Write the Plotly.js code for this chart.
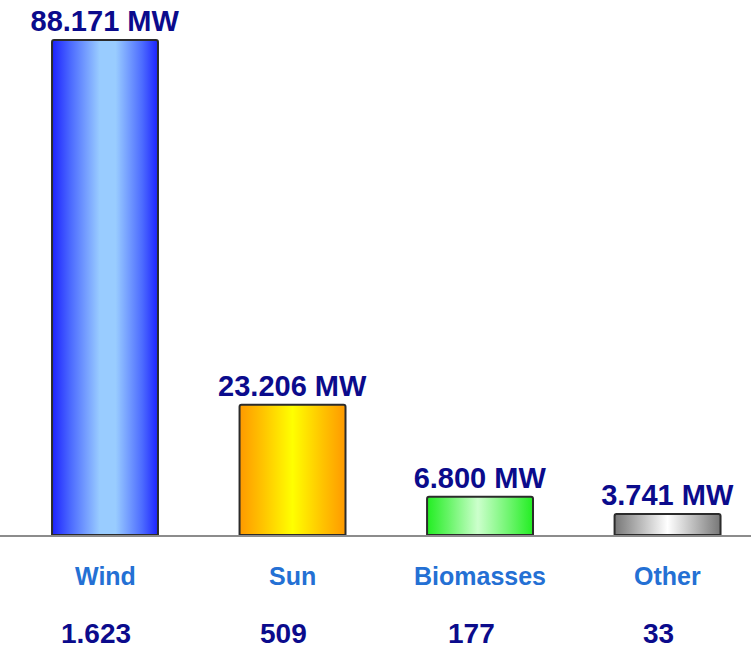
<!DOCTYPE html>
<html>
<head>
<meta charset="utf-8">
<script src="https://cdn.plot.ly/plotly-3.0.1.min.js"></script>
<style>
  html, body { margin: 0; padding: 0; background: #ffffff; }
  #chart { width: 751px; height: 652px; }
</style>
</head>
<body>
<div id="chart"></div>
<script>
// Installed renewable capacity by source (MW) and number of plants
const sources = ['Wind', 'Sun', 'Biomasses', 'Other'];
const capacityMW = [88171, 23206, 6800, 3741];
const plantCounts = [1623, 509, 177, 33];

// Horizontal colour ramps for each bar: edge -> highlight -> edge
const barRamps = [
  [[0, '#1c22ff'], [0.18, '#4d6cff'], [0.45, '#99ccff'], [0.6, '#99ccff'], [0.85, '#4d6cff'], [1, '#1c22ff']],
  [[0, '#ff9900'], [0.22, '#ffc400'], [0.5, '#ffff00'], [0.78, '#ffc400'], [1, '#ff9900']],
  [[0, '#22ee22'], [0.2, '#66f466'], [0.48, '#ccffcc'], [0.8, '#66f466'], [1, '#22ee22']],
  [[0, '#777777'], [0.25, '#bbbbbb'], [0.5, '#ffffff'], [0.75, '#bbbbbb'], [1, '#777777']]
];

const navy = '#0b0b8c';
const catBlue = '#2470d4';
const fontFamily = '"Liberation Sans", Arial, sans-serif';

function groupThousands(n) {
  return String(n).replace(/\B(?=(\d{3})+(?!\d))/g, '.');
}

const trace = {
  type: 'bar',
  x: sources,
  y: capacityMW,
  width: 0.565,
  marker: {
    color: ['#5577ff', '#ffcc00', '#88f588', '#cccccc'],
    line: { color: '#2b2b2b', width: 2 },
    cornerradius: 2
  },
  texttemplate: '%{y:,.0f} MW',
  textposition: 'outside',
  constraintext: 'none',
  cliponaxis: false,
  textfont: { family: fontFamily, size: 29, color: navy, weight: 'bold' },
  hoverinfo: 'skip'
};

const annotations = [];
sources.forEach((s, i) => {
  annotations.push({
    x: s, xref: 'x', y: 0, yref: 'paper',
    yanchor: 'middle', yshift: -41,
    text: s, showarrow: false,
    font: { family: fontFamily, size: 25, color: catBlue, weight: 'bold' }
  });
  annotations.push({
    x: s, xref: 'x', y: 0, yref: 'paper',
    yanchor: 'middle', yshift: -98, xshift: -9,
    text: groupThousands(plantCounts[i]), showarrow: false,
    font: { family: fontFamily, size: 28, color: navy, weight: 'bold' }
  });
});

const layout = {
  width: 751,
  height: 652,
  margin: { l: 0, r: 0, t: 0, b: 117 },
  paper_bgcolor: '#ffffff',
  plot_bgcolor: '#ffffff',
  separators: ',.',
  showlegend: false,
  xaxis: {
    type: 'category',
    range: [-0.56, 3.445],
    showticklabels: false,
    ticks: '',
    showgrid: false,
    zeroline: false,
    showline: true,
    linecolor: '#8c8c8c',
    linewidth: 1.5,
    fixedrange: true
  },
  yaxis: {
    range: [0, Math.max(...capacityMW) * 1.081],
    visible: false,
    showgrid: false,
    zeroline: false,
    fixedrange: true
  },
  annotations: annotations
};

function applyRamps(gd) {
  const svgNS = 'http://www.w3.org/2000/svg';
  const defs = gd.querySelector('svg.main-svg defs');
  if (!defs) return;
  barRamps.forEach((ramp, i) => {
    const id = 'barRamp' + i;
    if (document.getElementById(id)) return;
    const lg = document.createElementNS(svgNS, 'linearGradient');
    lg.setAttribute('id', id);
    lg.setAttribute('x1', '0'); lg.setAttribute('y1', '0');
    lg.setAttribute('x2', '1'); lg.setAttribute('y2', '0');
    ramp.forEach(([off, col]) => {
      const st = document.createElementNS(svgNS, 'stop');
      st.setAttribute('offset', off);
      st.setAttribute('stop-color', col);
      lg.appendChild(st);
    });
    defs.appendChild(lg);
  });
  gd.querySelectorAll('.trace.bars .point path').forEach((p, i) => {
    p.style.fill = 'url(#barRamp' + i + ')';
  });
}

const gd = document.getElementById('chart');
Plotly.newPlot(gd, [trace], layout, { displayModeBar: false, staticPlot: true })
  .then(() => applyRamps(gd));
</script>
</body>
</html>
